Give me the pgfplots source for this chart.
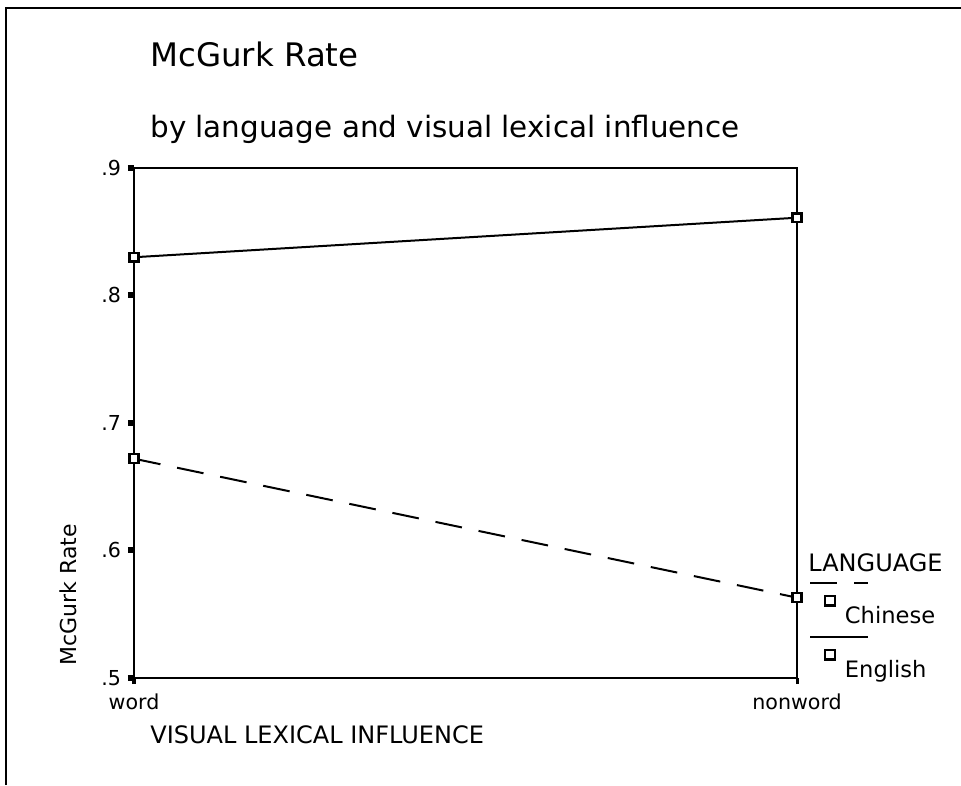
\documentclass[border=0pt]{standalone}
\usepackage{fontspec}
\setmainfont{DejaVu Sans}
\usepackage{pgfplots}
\pgfplotsset{compat=1.18}
\begin{document}
\begin{tikzpicture}
% fixed page box: 961 x 785 px at 0.5pt per px, origin at the axis' lower left
\useasboundingbox (-67pt,-53.5pt) rectangle (413.5pt,339pt);
\draw[line width=1pt] (-64pt,-53.5pt) -- (-64pt,335pt) -- (413.5pt,335pt);
\begin{axis}[
    at={(0,0)}, anchor=south west,
    scale only axis,
    width=331.5pt, height=255pt,
    xmin=0, xmax=1, ymin=0.5, ymax=0.9,
    xtick={0,1}, xticklabels={word,nonword},
    ytick={0.5,0.6,0.7,0.8,0.9}, yticklabels={.5,.6,.7,.8,.9},
    tick pos=left, tick align=outside, major tick length=3pt,
    xtick style={line width=1.5pt, black},
    ytick style={line width=3pt, black},
    axis line style={line width=1.4pt},
    tick label style={font=\fontsize{10.3}{12}\selectfont},
    xticklabel style={yshift=-1.5pt},
    clip=false,
    legend style={at={(rel axis cs:1.033,-0.022)}, anchor=south west,
        draw=none, fill=none, row sep=9.5pt, column sep=3pt,
        font=\fontsize{11.3}{13}\selectfont},
    legend cell align=left,
    legend image code/.code={
        \draw[#1, line width=1pt, mark=none, overlay] (-10pt,17pt) -- (19pt,17pt);
        \draw[#1, solid, mark size=2.4pt] plot coordinates {(0pt,8pt)};
    },
]
% Chinese
\addplot[black, line width=1pt, dash pattern=on 13.5pt off 8.5pt,
    mark=square*, mark size=2.2pt, mark options={solid, fill=white, line width=1.2pt}]
    coordinates {(0,0.672) (1,0.563)};
\addlegendentry{Chinese}
% English
\addplot[black, line width=1pt,
    mark=square*, mark size=2.2pt, mark options={solid, fill=white, line width=1.2pt}]
    coordinates {(0,0.830) (1,0.861)};
\addlegendentry{English}
\end{axis}
\node[anchor=base west, font=\fontsize{16.2}{19}\selectfont, inner sep=0pt] at (8pt,305.5pt) {McGurk Rate};
\node[anchor=base west, font=\fontsize{14.7}{18}\selectfont, inner sep=0pt] at (8pt,270pt) {by language and visual lexical influence};
\node[anchor=base west, font=\fontsize{12}{14}\selectfont, inner sep=0pt] at (337pt,53pt) {LANGUAGE};
\node[anchor=base west, font=\fontsize{12}{14}\selectfont, inner sep=0pt] at (8pt,-33pt) {VISUAL LEXICAL INFLUENCE};
\node[rotate=90, font=\fontsize{11}{13}\selectfont, inner sep=0pt] at (-33pt,41.5pt) {McGurk Rate};
\end{tikzpicture}
\end{document}
